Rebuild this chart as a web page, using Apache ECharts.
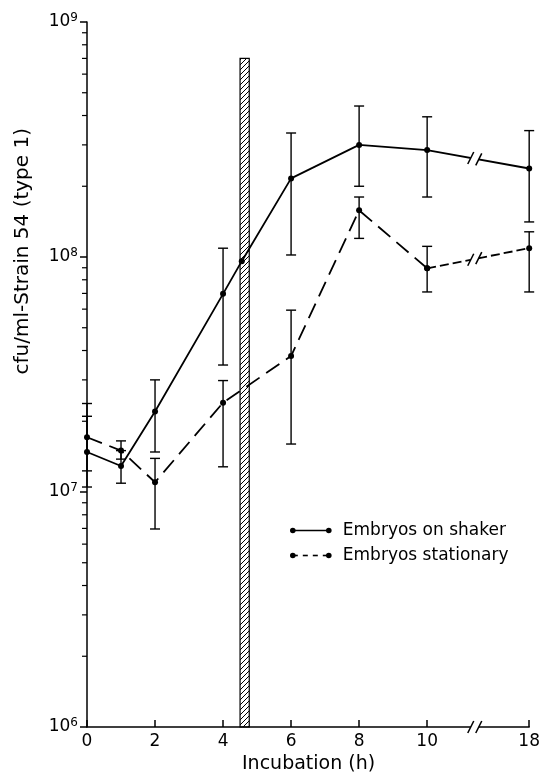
<!DOCTYPE html>
<html><head><meta charset="utf-8">
<script src="https://cdn.jsdelivr.net/npm/echarts@6/dist/echarts.min.js"></script>
<style>html,body{margin:0;padding:0;background:#fff}#c{width:543px;height:779px}</style>
</head><body><div id="c"></div>
<script>
// ---- data ----
const hours = [0, 1, 2, 4, 6, 8, 10, 18];
const shaker = [1.48e7, 1.29e7, 2.2e7, 6.97e7, 2.16e8, 3.0e8, 2.85e8, 2.38e8];
const shakerLow = [1.05e7, 1.09e7, 1.48e7, 3.47e7, 1.02e8, 2.0e8, 1.8e8, 1.41e8];
const shakerHigh = [2.1e7, 1.5e7, 3.0e7, 1.09e8, 3.37e8, 4.39e8, 3.95e8, 3.45e8];
const stationary = [1.71e7, 1.5e7, 1.1e7, 2.4e7, 3.79e7, 1.58e8, 8.95e7, 1.09e8];
const stationaryLow = [1.23e7, 1.38e7, 6.96e6, 1.28e7, 1.6e7, 1.2e8, 7.1e7, 7.1e7];
const stationaryHigh = [2.38e7, 1.65e7, 1.39e7, 2.98e7, 5.94e7, 1.8e8, 1.11e8, 1.28e8];
const transferHour = 4.55;          // extra shaker point at the transfer bar
const transferValue = 9.6e7;
const hatchStart = 4.5, hatchEnd = 4.77, hatchTop = 7e8;
const xTickHours = [0, 2, 4, 6, 8, 10, 18];
const breakHour = 11.4;             // axis position of the // break
const legendNames = ['Embryos on shaker', 'Embryos stationary'];

// broken x scale: 10 -> 18 squeezed into 3 units
const pos = h => h <= 10 ? h : 10 + 3 * (h - 10) / 8;

const FONT = 'DejaVu Sans';
const chart = echarts.init(document.getElementById('c'), null, {renderer: 'canvas'});

const pc = document.createElement('canvas');
pc.width = 5; pc.height = 5;
const g = pc.getContext('2d');
g.strokeStyle = '#000'; g.lineWidth = 1;
g.beginPath();
g.moveTo(0, 5); g.lineTo(5, 0);
g.moveTo(-1, 1); g.lineTo(1, -1);
g.moveTo(4, 6); g.lineTo(6, 4);
g.stroke();

const shakerLine = [];
hours.forEach((h, i) => {
  shakerLine.push([pos(h), shaker[i]]);
  if (h === 4) shakerLine.push([transferHour, transferValue]);
});
const statA = hours.slice(0, 7).map((h, i) => [pos(h), stationary[i]]);
const statB = hours.slice(6).map((h, i) => [pos(h), stationary[i + 6]]);

const errData = [];
hours.forEach((h, i) => {
  errData.push([pos(h), shakerLow[i], shakerHigh[i]]);
  errData.push([pos(h), stationaryLow[i], stationaryHigh[i]]);
});

const minorTicks = [];
for (let e = 6; e < 9; e++) for (let m = 2; m <= 9; m++) minorTicks.push([0, m * Math.pow(10, e)]);

const breakData = [
  [pos(10), shaker[6], pos(18), shaker[7]],
  [pos(10), stationary[6], pos(18), stationary[7]],
  [pos(10), 1e6, pos(18), 1e6]
];

function breakRender(params, api) {
  const p1 = api.coord([api.value(0), api.value(1)]);
  const p2 = api.coord([api.value(2), api.value(3)]);
  const bx = api.coord([breakHour, api.value(1)])[0];
  const t = (bx - p1[0]) / (p2[0] - p1[0]);
  const cy = p1[1] + t * (p2[1] - p1[1]);
  const cx = bx;
  const slope = (p2[1] - p1[1]) / (p2[0] - p1[0]);
  const gap = 4;
  return {type: 'group', children: [
    {type: 'line', shape: {x1: cx - gap, y1: cy - gap * slope, x2: cx + gap, y2: cy + gap * slope},
     style: {stroke: '#fff', lineWidth: 5}},
    {type: 'line', shape: {x1: cx - gap - 3, y1: cy - gap * slope + 6, x2: cx - gap + 3, y2: cy - gap * slope - 6},
     style: {stroke: '#000', lineWidth: 1.5}},
    {type: 'line', shape: {x1: cx + gap - 3, y1: cy + gap * slope + 6, x2: cx + gap + 3, y2: cy + gap * slope - 6},
     style: {stroke: '#000', lineWidth: 1.5}}
  ]};
}

const option = {
  animation: false,
  backgroundColor: '#fff',
  grid: {left: 87, right: 10, top: 22, bottom: 52},
  xAxis: {
    type: 'value', min: 0, max: 13,
    axisLine: {lineStyle: {color: '#000', width: 1.5}},
    axisTick: {customValues: xTickHours.map(pos), inside: true, length: 7, lineStyle: {color: '#000', width: 1.5}},
    axisLabel: {customValues: xTickHours.map(pos), color: '#000', fontFamily: FONT, fontSize: 17, margin: 6,
      formatter: v => String(xTickHours[xTickHours.map(pos).indexOf(v)])},
    splitLine: {show: false}
  },
  yAxis: {
    type: 'log', logBase: 10, min: 1e6, max: 1e9,
    axisLine: {show: true, lineStyle: {color: '#000', width: 1.5}},
    axisTick: {show: true, length: 7, lineStyle: {color: '#000', width: 1.5}},
    axisLabel: {color: '#000', fontFamily: FONT, margin: 9,
      formatter: v => '{b|10}{s|' + Math.round(Math.log10(v)) + '}',
      rich: {b: {fontSize: 17, fontFamily: FONT, lineHeight: 20, color: '#000'},
             s: {fontSize: 12, fontFamily: FONT, lineHeight: 20, verticalAlign: 'top', padding: [0, 0, 10, 0], color: '#000'}}},
    splitLine: {show: false}
  },
  series: [
    {type: 'custom', name: 'hatch', silent: true, z: 1,
      data: [[hatchStart, 1e6, hatchEnd, hatchTop]],
      renderItem: (params, api) => {
        const a = api.coord([api.value(0), api.value(3)]);
        const b = api.coord([api.value(2), api.value(1)]);
        return {type: 'rect', shape: {x: a[0], y: a[1], width: b[0] - a[0], height: b[1] - a[1]},
          style: {fill: {image: pc, repeat: 'repeat'}, stroke: '#000', lineWidth: 1.2}};
      }},
    {type: 'custom', name: 'minor', silent: true, clip: false, data: minorTicks,
      renderItem: (params, api) => {
        const p = api.coord([api.value(0), api.value(1)]);
        return {type: 'line', shape: {x1: p[0] - 5, y1: p[1], x2: p[0], y2: p[1]}, style: {stroke: '#000', lineWidth: 1.2}};
      }},
    {type: 'custom', name: 'err', silent: true, clip: false, z: 3, data: errData,
      renderItem: (params, api) => {
        const lo = api.coord([api.value(0), api.value(1)]);
        const hi = api.coord([api.value(0), api.value(2)]);
        const w = 5;
        const st = {stroke: '#000', lineWidth: 1.4};
        return {type: 'group', children: [
          {type: 'line', shape: {x1: lo[0], y1: lo[1], x2: hi[0], y2: hi[1]}, style: st},
          {type: 'line', shape: {x1: lo[0] - w, y1: lo[1], x2: lo[0] + w, y2: lo[1]}, style: st},
          {type: 'line', shape: {x1: hi[0] - w, y1: hi[1], x2: hi[0] + w, y2: hi[1]}, style: st}
        ]};
      }},
    {type: 'line', name: legendNames[0], data: shakerLine, z: 4,
      symbol: 'circle', symbolSize: 6, itemStyle: {color: '#000'},
      lineStyle: {color: '#000', width: 1.8}},
    {type: 'line', name: legendNames[1], data: statA, z: 4,
      symbol: 'circle', symbolSize: 6, itemStyle: {color: '#000'},
      lineStyle: {color: '#000', width: 1.8, type: [16, 8]}},
    {type: 'line', name: legendNames[1] + ' ', data: statB, z: 4,
      symbol: 'circle', symbolSize: 6, itemStyle: {color: '#000'},
      lineStyle: {color: '#000', width: 1.8, type: [9, 4]}},
    {type: 'custom', name: 'breaks', silent: true, clip: false, z: 5, data: breakData, renderItem: breakRender}
  ],
  graphic: [
    {type: 'text', left: 13, top: 128, rotation: Math.PI / 2,
      style: {text: 'cfu/ml-Strain 54 (type 1)', font: '20px "' + FONT + '"', fill: '#000'}},
    {type: 'text', left: 242, top: 755,
      style: {text: 'Incubation (h)', font: '19px "' + FONT + '"', fill: '#000'}},
    {type: 'group', left: 290, top: 522, children: [
      {type: 'line', shape: {x1: 2, y1: 6, x2: 38, y2: 6}, style: {stroke: '#000', lineWidth: 1.6}},
      {type: 'circle', shape: {cx: 2, cy: 6, r: 2.8}, style: {fill: '#000'}},
      {type: 'circle', shape: {cx: 38, cy: 6, r: 2.8}, style: {fill: '#000'}},
      {type: 'text', x: 52, y: 6, style: {text: legendNames[0], font: '17px "' + FONT + '"', fill: '#000', verticalAlign: 'middle'}},
      {type: 'line', shape: {x1: 2, y1: 31, x2: 38, y2: 31}, style: {stroke: '#000', lineWidth: 1.6, lineDash: [5, 5]}},
      {type: 'circle', shape: {cx: 2, cy: 31, r: 2.8}, style: {fill: '#000'}},
      {type: 'circle', shape: {cx: 38, cy: 31, r: 2.8}, style: {fill: '#000'}},
      {type: 'text', x: 52, y: 31, style: {text: legendNames[1], font: '17px "' + FONT + '"', fill: '#000', verticalAlign: 'middle'}}
    ]}
  ]
};
chart.setOption(option);
</script>
</body></html>
